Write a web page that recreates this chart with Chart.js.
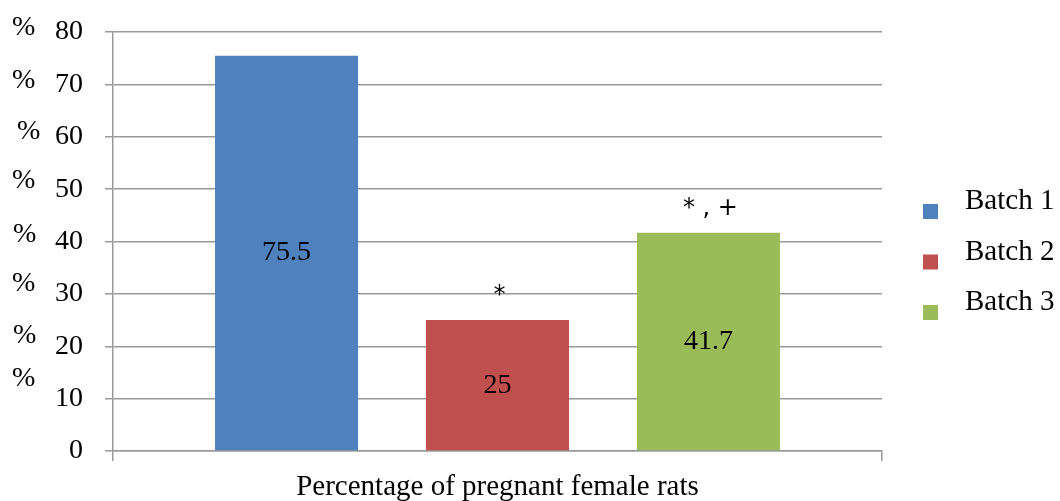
<!DOCTYPE html>
<html>
<head>
<meta charset="utf-8">
<script src="https://cdn.jsdelivr.net/npm/chart.js@4.4.1/dist/chart.umd.min.js"></script>
<style>
  html, body { margin: 0; padding: 0; background: #fff; }
  #wrap { width: 1060px; height: 501px; position: relative; }
</style>
</head>
<body>
<div id="wrap"><canvas id="canvas"></canvas></div>
<script>
const categories = ['Percentage of pregnant female rats'];
const batchNames = ['Batch 1', 'Batch 2', 'Batch 3'];
const batchValues = [75.5, 25, 41.7];
const batchColors = ['#4F81BD', '#C0504D', '#9BBB59'];
const marks = ['', '*', '* , +'];
const yTicks = [0, 10, 20, 30, 40, 50, 60, 70, 80];
// the loose "%" signs down the left edge (value they sit at, x offset)
const percentSigns = [[80.8, 12], [70.8, 12], [60.9, 17], [51.7, 12], [41.3, 13], [32.0, 12], [22.0, 13], [13.8, 12]];

const serif = 'Liberation Serif';

const extras = {
    id: 'extras',
    afterDatasetsDraw(chart) {
        const ctx = chart.ctx;
        const y = chart.scales.y;
        const area = chart.chartArea;
        ctx.save();
        ctx.fillStyle = '#000';
        ctx.textAlign = 'center';
        ctx.textBaseline = 'middle';
        chart.data.datasets.forEach((ds, i) => {
            const bar = chart.getDatasetMeta(i).data[0];
            const mid = (bar.y + bar.base) / 2;
            ctx.font = '28px "' + serif + '"';
            ctx.fillText(String(ds.data[0]), bar.x, mid);
            if (marks[i]) {
                ctx.font = '24px "DejaVu Sans"';
                ctx.fillText(marks[i], bar.x + 2, bar.y - 24);
            }
        });
        ctx.font = '28px "' + serif + '"';
        ctx.textAlign = 'left';
        percentSigns.forEach(p => {
            ctx.fillText('%', p[1], y.getPixelForValue(p[0]));
        });

        // legend on the right
        ctx.font = '29px "' + serif + '"';
        ctx.textBaseline = 'alphabetic';
        chart.data.datasets.forEach((ds, i) => {
            const base = 209 + i * 50.5;
            ctx.fillStyle = ds.backgroundColor;
            ctx.fillRect(area.right + 41, base - 5, 15, 15);
            ctx.fillStyle = '#000';
            ctx.fillText(ds.label, area.right + 83, base);
        });
        ctx.restore();
    }
};

const datasets = batchNames.map((name, i) => ({
    label: name,
    data: [batchValues[i]],
    backgroundColor: batchColors[i],
    categoryPercentage: 0.823,
    barPercentage: 0.678
}));

new Chart(document.getElementById('canvas'), {
    type: 'bar',
    data: { labels: categories, datasets: datasets },
    options: {
        responsive: true,
        maintainAspectRatio: false,
        animation: false,
        layout: { padding: { top: 0, right: 178, left: 33, bottom: -13 } },
        plugins: {
            tooltip: { enabled: false },
            legend: { display: false }
        },
        scales: {
            x: {
                grid: {
                    offset: true,
                    drawOnChartArea: false,
                    color: '#999',
                    lineWidth: 1.5,
                    tickLength: 10
                },
                border: { color: '#999', width: 1.5 },
                ticks: {
                    color: '#000',
                    font: { family: serif, size: 29, lineHeight: 1 },
                    padding: 12
                }
            },
            y: {
                min: 0,
                max: 80,
                afterBuildTicks(axis) { axis.ticks = yTicks.map(v => ({ value: v })); },
                grid: { color: '#999', lineWidth: 1.5, tickLength: 8 },
                border: { color: '#999', width: 1.5 },
                ticks: {
                    color: '#000',
                    font: { family: serif, size: 28, lineHeight: 0.72 },
                    padding: 22
                }
            }
        }
    },
    plugins: [extras]
});
</script>
</body>
</html>
